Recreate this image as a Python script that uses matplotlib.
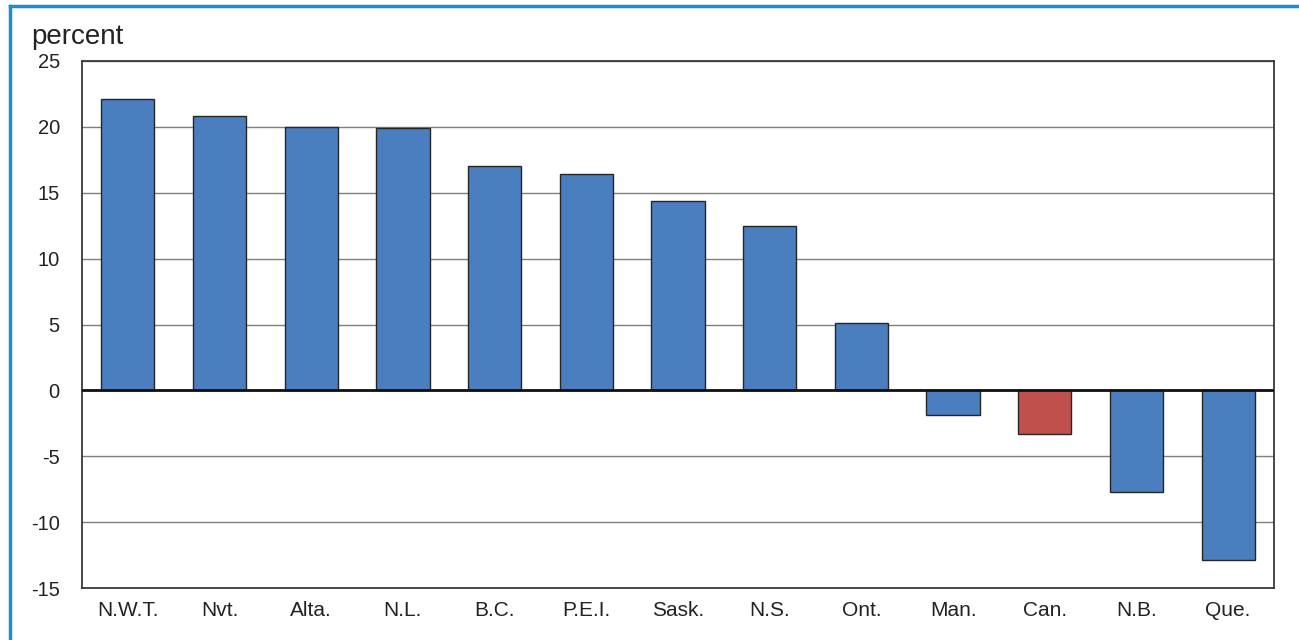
import matplotlib
matplotlib.use("Agg")
import matplotlib.pyplot as plt
from matplotlib.lines import Line2D

plt.rcParams["font.family"] = ["Liberation Sans", "DejaVu Sans"]

provinces = ["N.W.T.", "Nvt.", "Alta.", "N.L.", "B.C.", "P.E.I.", "Sask.",
             "N.S.", "Ont.", "Man.", "Can.", "N.B.", "Que."]
change = [22.1, 20.8, 20.0, 19.9, 17.0, 16.4, 14.4, 12.5, 5.1, -1.9, -3.3, -7.7, -12.9]
yticks = [-15, -10, -5, 0, 5, 10, 15, 20, 25]

blue = "#4a7ebf"
red = "#c0504d"
colors = [red if p == "Can." else blue for p in provinces]

fig = plt.figure(figsize=(12.99, 6.4), dpi=100)
ax = fig.add_axes([82 / 1299, 52 / 640, 1192 / 1299, 527 / 640])

ax.set_ylim(-15, 25)
ax.set_xlim(-0.5, len(provinces) - 0.5)
ax.set_yticks(yticks)
ax.set_yticklabels([str(t) for t in yticks])
ax.yaxis.grid(True, color="#7f7f7f", linewidth=1.0)
ax.set_axisbelow(True)

x = range(len(provinces))
ax.bar(x, change, width=0.58, color=colors, edgecolor="#262626", linewidth=1.0, zorder=3)
ax.axhline(0, color="#111111", linewidth=2.0, zorder=4)

ax.set_xticks(list(x))
ax.set_xticklabels(provinces)
ax.tick_params(axis="both", length=0, colors="#222222")
ax.tick_params(axis="y", pad=16, labelsize=14.5)
ax.tick_params(axis="x", pad=9, labelsize=15)

for s in ax.spines.values():
    s.set_color("#3a3a3a")
    s.set_linewidth(1.3)

fig.text(31 / 1299, 1 - 37 / 640, "percent", fontsize=20, color="#222222",
         ha="left", va="center")

# blue frame (top and left edge)
fig.add_artist(Line2D([10 / 1299, 1], [1 - 5.5 / 640, 1 - 5.5 / 640],
                      transform=fig.transFigure, color="#1a8fc9", linewidth=2.5))
fig.add_artist(Line2D([10 / 1299, 10 / 1299], [0, 1 - 5.5 / 640],
                      transform=fig.transFigure, color="#1a8fc9", linewidth=2.5))

fig.savefig("out.png", dpi=100)
